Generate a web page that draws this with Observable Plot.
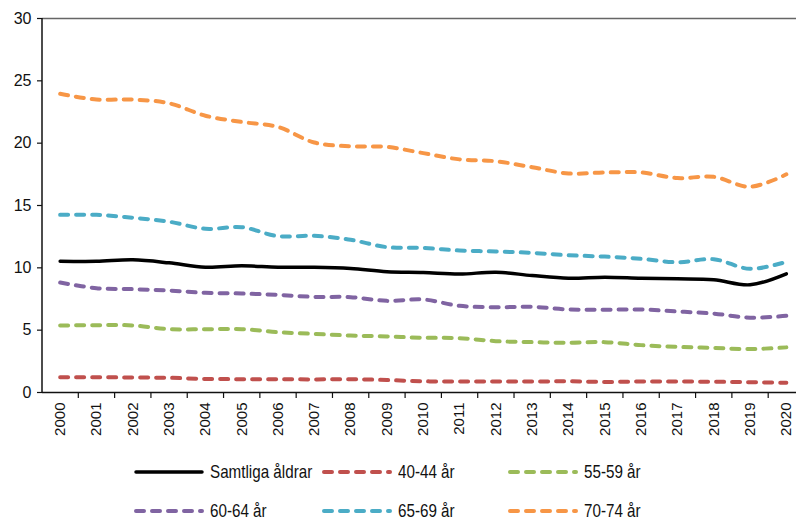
<!DOCTYPE html>
<html>
<head>
<meta charset="utf-8">
<script src="https://cdn.jsdelivr.net/npm/d3@7"></script>
<script src="https://cdn.jsdelivr.net/npm/@observablehq/plot@0.6"></script>
<style>
  html, body { margin: 0; padding: 0; background: #fff; overflow: hidden; }
  body { width: 796px; height: 520px; font-family: "Liberation Sans", Arial, sans-serif; }
  #chart svg { display: block; overflow: visible; }
  #legend { position: relative; height: 70px; }
  .item { position: absolute; display: flex; align-items: center; font-size: 19px; color: #111; white-space: nowrap; }
  .item svg { display: block; margin-right: 6px; }
  .item span { display: inline-block; transform: scaleX(0.8); transform-origin: left center; }
</style>
</head>
<body>
<div id="chart"></div>
<div id="legend"></div>
<script>
const years = d3.range(2000, 2021);
const seriesNames = ["Samtliga åldrar", "40-44 år", "55-59 år", "60-64 år", "65-69 år", "70-74 år"];
const colors = ["#000000", "#C0504D", "#9BBB59", "#8064A2", "#4BACC6", "#F79646"];
const samtliga = [10.53, 10.52, 10.64, 10.40, 10.05, 10.16, 10.05, 10.05, 9.95, 9.68, 9.62, 9.50, 9.65, 9.38, 9.17, 9.25, 9.17, 9.12, 9.04, 8.64, 9.52];
const a40_44 = [1.23, 1.23, 1.20, 1.18, 1.09, 1.07, 1.07, 1.05, 1.07, 1.00, 0.90, 0.88, 0.88, 0.88, 0.90, 0.85, 0.88, 0.88, 0.86, 0.83, 0.78];
const a55_59 = [5.37, 5.40, 5.38, 5.08, 5.08, 5.08, 4.84, 4.70, 4.57, 4.50, 4.39, 4.36, 4.12, 4.04, 3.99, 4.04, 3.80, 3.66, 3.58, 3.48, 3.62];
const a60_64 = [8.82, 8.37, 8.29, 8.18, 8.00, 7.94, 7.83, 7.67, 7.65, 7.35, 7.46, 6.95, 6.84, 6.87, 6.66, 6.64, 6.66, 6.50, 6.33, 6.00, 6.15];
const a65_69 = [14.25, 14.25, 14.02, 13.70, 13.13, 13.26, 12.54, 12.57, 12.25, 11.66, 11.60, 11.39, 11.31, 11.20, 11.01, 10.90, 10.72, 10.45, 10.69, 9.92, 10.48];
const a70_74 = [23.96, 23.50, 23.50, 23.20, 22.20, 21.70, 21.30, 20.05, 19.75, 19.70, 19.20, 18.70, 18.55, 18.07, 17.57, 17.65, 17.65, 17.20, 17.30, 16.50, 17.50];
const yTicks = [0, 5, 10, 15, 20, 25, 30];

const allSeries = [samtliga, a40_44, a55_59, a60_64, a65_69, a70_74];
const rows = [];
allSeries.forEach((vals, si) => vals.forEach((v, i) => rows.push({series: seriesNames[si], year: years[i], value: v})));
const boundaries = d3.range(2000.5, 2020.5, 1);

const lineMarks = seriesNames.map((name, si) => {
  const data = rows.filter(r => r.series === name);
  const dashed = si !== 0;
  return Plot.line(data, {
    x: "year", y: "value",
    stroke: colors[si],
    strokeWidth: dashed ? 4 : 3.5,
    strokeDasharray: dashed ? "8 8" : null,
    strokeLinecap: "round",
    curve: "catmull-rom"
  });
});

const chart = Plot.plot({
  width: 796,
  height: 450,
  marginTop: 18,
  marginBottom: 58,
  marginLeft: 42,
  marginRight: 0,
  style: {fontFamily: '"Liberation Sans", Arial, sans-serif', fontSize: "15px", color: "#111", background: "#fff"},
  x: {type: "linear", domain: [1999.5, 2020.5], range: [41.5, 804]},
  y: {domain: [0, 30], range: [392, 18]},
  marks: [
    Plot.ruleY([30], {stroke: "#666", strokeWidth: 1.5}),
    Plot.axisY({ticks: yTicks, tickSize: 5, tickPadding: 6, label: null, stroke: "#111", strokeWidth: 1.2, fontSize: 16}),
    Plot.axisX({ticks: years, tickSize: 0, tickPadding: 10, tickRotate: -90, tickFormat: d => String(d), label: null}),
    Plot.axisX({ticks: boundaries, tickSize: 6, tickFormat: () => "", label: null, stroke: "#111", strokeWidth: 1.2}),
    Plot.ruleX([1999.5], {stroke: "#111", strokeWidth: 1.5}),
    Plot.ruleY([0], {stroke: "#111", strokeWidth: 1.5}),
    ...lineMarks
  ]
});
document.getElementById("chart").appendChild(chart);

// Legend
const legend = document.getElementById("legend");
const colLeft = [134, 322, 508];
const rowTop = [11, 50];
seriesNames.forEach((name, si) => {
  const item = document.createElement("div");
  item.className = "item";
  item.style.left = colLeft[si % 3] + "px";
  item.style.top = rowTop[Math.floor(si / 3)] + "px";
  const dashed = si !== 0;
  item.innerHTML = `<svg width="70" height="8"><line x1="2" y1="4" x2="68" y2="4" stroke="${colors[si]}" stroke-width="${dashed ? 4 : 3.5}" stroke-linecap="round" ${dashed ? 'stroke-dasharray="8 8"' : ''}/></svg><span>${name}</span>`;
  legend.appendChild(item);
});
</script>
</body>
</html>
